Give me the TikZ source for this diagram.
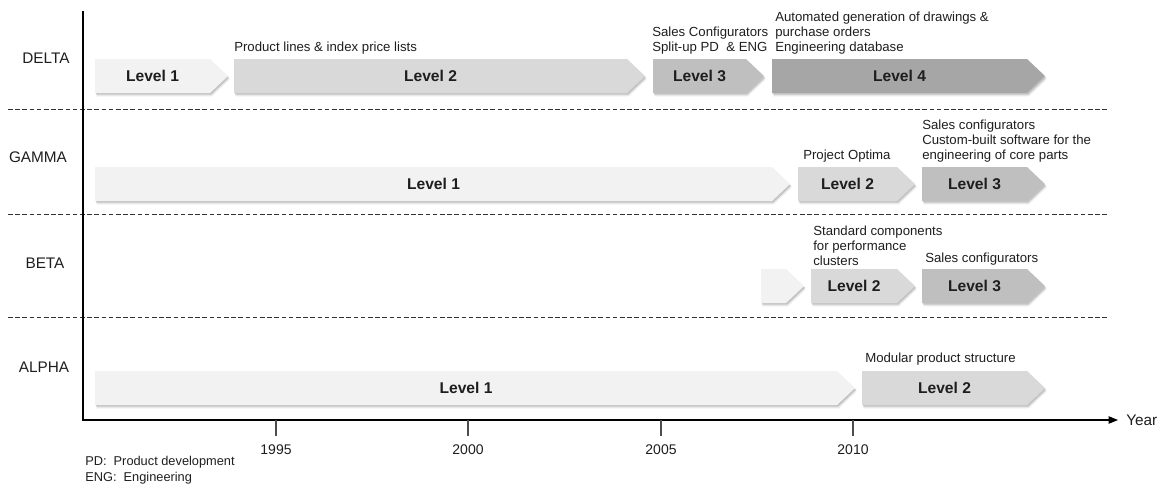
\documentclass[tikz,border=0pt]{standalone}
\usepackage{fontspec}
\setmainfont{Liberation Sans}
\usetikzlibrary{positioning}
\usetikzlibrary{shadows}
\usetikzlibrary{arrows.meta}

\definecolor{lvlone}{HTML}{F2F2F2}
\definecolor{lvltwo}{HTML}{D9D9D9}
\definecolor{lvlthree}{HTML}{BFBFBF}
\definecolor{lvlfour}{HTML}{A6A6A6}
\definecolor{ink}{HTML}{1E1E1E}

\tikzset{
	stagebox/.style={drop shadow={shadow xshift=0.8pt,shadow yshift=-1.3pt,opacity=0.35},
		drop shadow={shadow xshift=1.2pt,shadow yshift=-2.5pt,opacity=0.18}},
	stagetext/.style={text=ink,font=\fontsize{11.7}{14}\selectfont\bfseries,inner sep=0pt},
	note/.style={text=ink,font=\fontsize{9.9}{11.25}\selectfont,align=left,inner sep=0pt,anchor=south west},
	rowname/.style={text=ink,font=\fontsize{11.5}{14}\selectfont,inner sep=0pt},
	ticklabel/.style={text=ink,font=\fontsize{10.5}{12}\selectfont,inner sep=0pt},
	keytext/.style={text=ink,font=\fontsize{9.6}{12}\selectfont,inner sep=0pt,anchor=west},
	rowsep/.style={black!80,line width=0.7pt,dash pattern=on 3.4pt off 2pt}
}

\begin{document}
\begin{tikzpicture}[x=0.75pt,y=-0.75pt]
	\useasboundingbox (0,0) rectangle (1163,486);

	\draw[rowsep] (8,109)--(1107,109);
	\draw[rowsep] (8,214)--(1107,214);
	\draw[rowsep] (8,317)--(1107,317);

	\node[rowname] (delta) at (46,58) {DELTA};
	\node[rowname] (gamma) at (38,157) {GAMMA};
	\node[rowname] (beta) at (45,263) {BETA};
	\node[rowname] (alpha) at (44,367) {ALPHA};

	\fill[stagebox,lvlone] (95,59)--(210,59)--(228,76)--(210,93)--(95,93)--cycle;
	\fill[stagebox,lvltwo] (234,59)--(627,59)--(645,76)--(627,93)--(234,93)--cycle;
	\fill[stagebox,lvlthree] (653,59)--(746,59)--(764,76)--(746,93)--(653,93)--cycle;
	\fill[stagebox,lvlfour] (772,59)--(1027,59)--(1045,76)--(1027,93)--(772,93)--cycle;
	\node[stagetext] (d1) at (152.5,76) {Level 1};
	\node[stagetext] (d2) at (430.5,76) {Level 2};
	\node[stagetext] (d3) at (699.5,76) {Level 3};
	\node[stagetext] (d4) at (899.5,76) {Level 4};
	\node[note] (dnote2) at (234,54.5) {Product lines \& index price lists};
	\node[note] (dnote3) at (652,54.5) {Sales Configurators\\Split-up PD~ \& ENG};
	\node[note] (dnote4) at (775,54.5) {Automated generation of drawings \&\\purchase orders\\Engineering database};

	\fill[stagebox,lvlone] (95,167)--(772,167)--(790,184)--(772,201)--(95,201)--cycle;
	\fill[stagebox,lvltwo] (798,167)--(897,167)--(915,184)--(897,201)--(798,201)--cycle;
	\fill[stagebox,lvlthree] (922,167)--(1027,167)--(1045,184)--(1027,201)--(922,201)--cycle;
	\node[stagetext] (g1) at (433.5,184) {Level 1};
	\node[stagetext] (g2) at (847.5,184) {Level 2};
	\node[stagetext] (g3) at (974.5,184) {Level 3};
	\node[note] (gnote2) at (803,163) {Project Optima};
	\node[note] (gnote3) at (922,163) {Sales configurators\\Custom-built software for the\\engineering of core parts};

	\fill[stagebox,lvlone] (761,269)--(786,269)--(804,286)--(786,303)--(761,303)--cycle;
	\fill[stagebox,lvltwo] (811,269)--(897,269)--(915,286)--(897,303)--(811,303)--cycle;
	\fill[stagebox,lvlthree] (922,269)--(1027,269)--(1045,286)--(1027,303)--(922,303)--cycle;
	\node[stagetext] (b2) at (854,286) {Level 2};
	\node[stagetext] (b3) at (974.5,286) {Level 3};
	\node[note] (bnote2) at (813,266) {Standard components\\for performance\\clusters};
	\node[note] (bnote3) at (925,265.5) {Sales configurators};

	\fill[stagebox,lvlone] (95,371)--(837,371)--(855,388)--(837,405)--(95,405)--cycle;
	\fill[stagebox,lvltwo] (862,371)--(1027,371)--(1045,388)--(1027,405)--(862,405)--cycle;
	\node[stagetext] (a1) at (466,388) {Level 1};
	\node[stagetext] (a2) at (944.5,388) {Level 2};
	\node[note] (anote2) at (865,365.5) {Modular product structure};

	\coordinate (top) at (83,11);
	\coordinate (origin) at (83,420);
	\coordinate (xend) at (1118,420);
	\draw[black,line width=0.8pt,-{Triangle[length=7pt,width=5.5pt]}] (top)--(origin)--(xend);
	\node[rowname,right=6pt of xend] (year) {Year};

	\coordinate (t1995) at (276,420);
	\coordinate (t2000) at (468,420);
	\coordinate (t2005) at (661,420);
	\coordinate (t2010) at (853,420);
	\node[ticklabel] (y1995) at (276,450) {1995};
	\node[ticklabel] (y2000) at (468,450) {2000};
	\node[ticklabel] (y2005) at (661,450) {2005};
	\node[ticklabel] (y2010) at (853,450) {2010};
	\draw[black!70,line width=0.8pt] (t1995)--++(0,16);
	\draw[black!70,line width=0.8pt] (t2000)--++(0,16);
	\draw[black!70,line width=0.8pt] (t2005)--++(0,16);
	\draw[black!70,line width=0.8pt] (t2010)--++(0,16);

	\node[keytext] (pd) at (85,462) {PD:~ Product development};
	\node[keytext] (eng) at (85,478) {ENG:~ Engineering};
\end{tikzpicture}
\end{document}
